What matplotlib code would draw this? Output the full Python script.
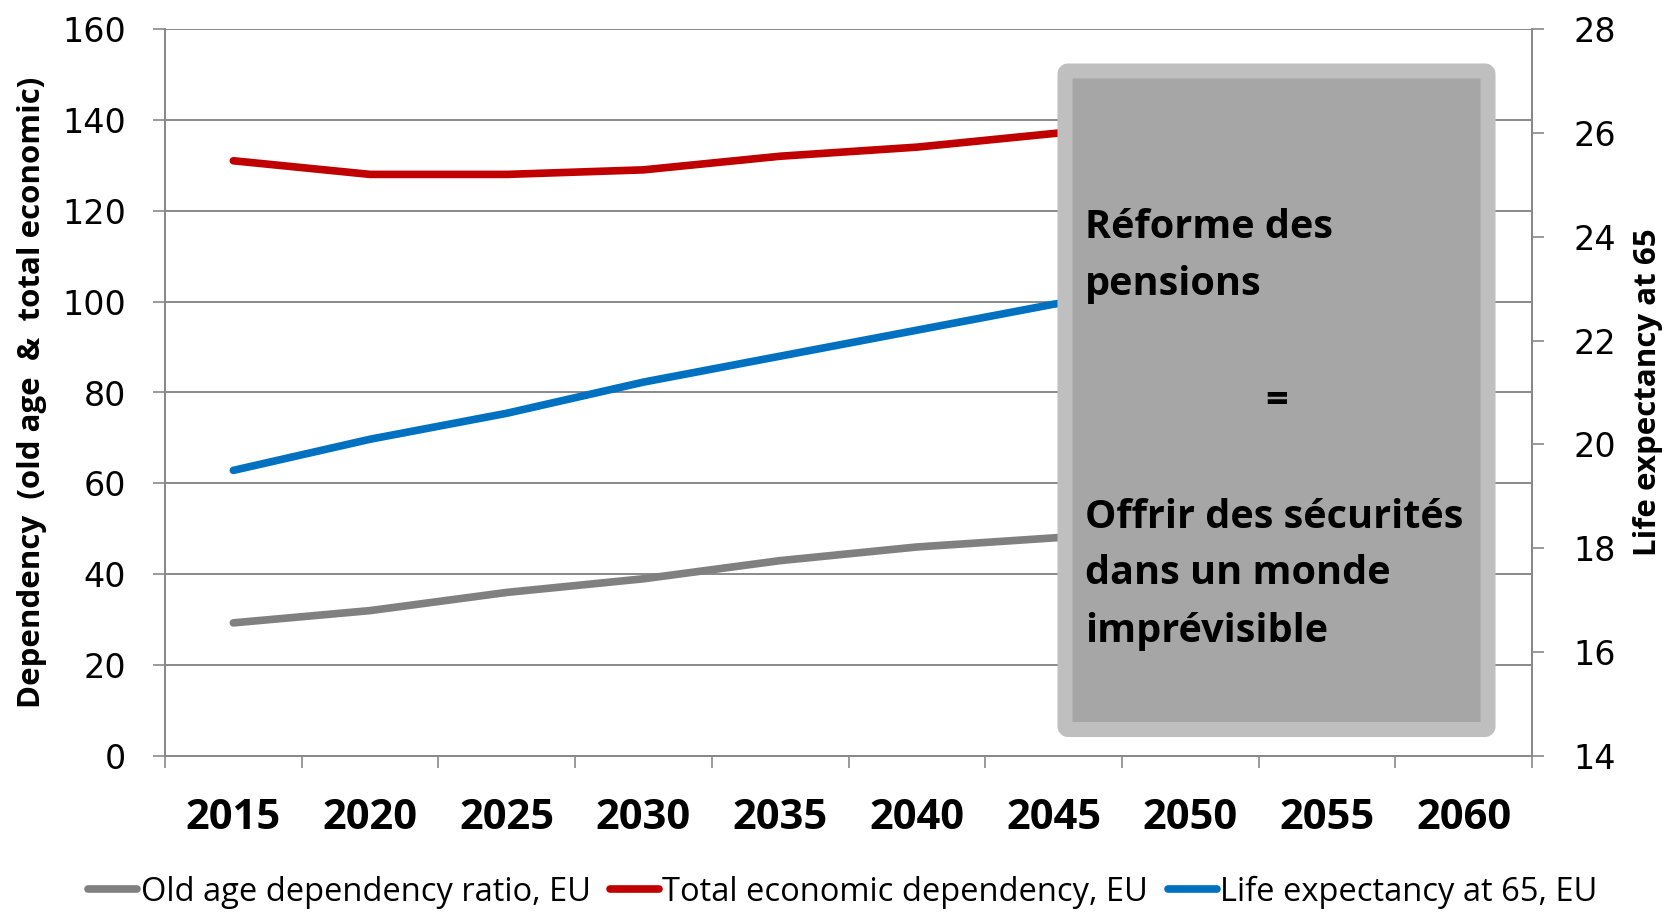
import matplotlib
matplotlib.use("Agg")
import matplotlib.pyplot as plt
from matplotlib.patches import FancyBboxPatch
from matplotlib.transforms import IdentityTransform
from matplotlib.ticker import MultipleLocator, FixedLocator

# === Données ===
years = ["2015", "2020", "2025", "2030", "2035", "2040", "2045", "2050", "2055", "2060"]
old_age = [29.3, 32, 36, 39, 43, 46, 48, 50, 51, 51]
total_econ = [131, 128, 128, 129, 132, 134, 137, 140, 143, 145]
life_exp = [19.5, 20.1, 20.6, 21.2, 21.7, 22.2, 22.7, 23.1, 23.6, 24.0]

GRID = "#898989"
W, H = 1669, 913
AX_L, AX_R, AX_T, AX_B = 165, 1532, 29, 756
AX_W = AX_R - AX_L

fig = plt.figure(figsize=(W / 100, H / 100), dpi=100)
ax = fig.add_axes([AX_L / W, 1 - AX_B / H, AX_W / W, (AX_B - AX_T) / H])
ax2 = ax.twinx()

x = list(range(len(years)))
l1, = ax.plot(x, old_age, color="#808080", lw=5.5, solid_capstyle="round", label="Old age dependency ratio, EU")
l2, = ax.plot(x, total_econ, color="#C00000", lw=5.5, solid_capstyle="round", label="Total economic dependency, EU")
l3, = ax2.plot(x, life_exp, color="#0070C0", lw=5.5, solid_capstyle="round", label="Life expectancy at 65, EU")

ax.set_xlim(-0.5, len(years) - 0.5)
ax.set_ylim(0, 160)
ax2.set_ylim(14, 28)
ax.yaxis.set_major_locator(MultipleLocator(20))
ax2.yaxis.set_major_locator(MultipleLocator(2))

ax.set_xticks(x)
ax.set_xticklabels(years, fontfamily="Open Sans", fontweight="bold", fontsize=30)
ax.xaxis.set_minor_locator(FixedLocator([i - 0.5 for i in range(len(years) + 1)]))
ax.tick_params(axis="x", which="major", length=0, pad=30)
ax.tick_params(axis="x", which="minor", length=8.6, width=1.2, color=GRID, direction="out")

ax.tick_params(axis="y", length=8.6, width=1.2, color=GRID, pad=19.5, labelsize=24)
ax2.tick_params(axis="y", length=8.6, width=1.2, color=GRID, pad=21, labelsize=24)

ax.grid(True, axis="y", color=GRID, lw=1.4)
ax.set_axisbelow(True)
for a in (ax, ax2):
    a.spines["top"].set_visible(False)
    for s in ("left", "right", "bottom"):
        a.spines[s].set_color(GRID)
        a.spines[s].set_linewidth(1.4)

ax.set_ylabel("Dependency  (old age  &  total economic)", fontfamily="Open Sans",
              fontweight="bold", fontsize=22.5, va="center")
ax.yaxis.set_label_coords((32 - AX_L) / AX_W, 0.5)
ax2.set_ylabel("Life expectancy at 65", fontfamily="Open Sans", fontweight="bold",
               fontsize=22.5, rotation=90, va="center")
ax2.yaxis.set_label_coords((1648 - AX_L) / AX_W, 0.5)

fig.legend(handles=[l1, l2, l3], loc="center", bbox_to_anchor=(0.505, 1 - 892 / H),
           ncol=3, frameon=False, handlelength=1.5, handletextpad=0.1, columnspacing=0.6,
           prop={"family": "Open Sans", "size": 23.5})

# === Encadré ===
box = FancyBboxPatch((1065, H - 729.5), 423, 658.5,
                     boxstyle="round,pad=0,rounding_size=3",
                     facecolor="#A6A6A6", edgecolor="#BFBFBF", lw=10.8,
                     joinstyle="round", transform=IdentityTransform(), zorder=5)
fig.add_artist(box)

box_font = dict(family="Open Sans", fontweight="bold", fontsize=28.5, color="black",
                va="center", zorder=6)
lines_left = [("Réforme des", 228), ("pensions", 285),
              ("Offrir des sécurités", 517), ("dans un monde", 574), ("imprévisible", 631)]
for txt, yy in lines_left:
    fig.text(1085 / W, 1 - yy / H, txt, ha="left", **box_font)
fig.text(1277 / W, 1 - 401 / H, "=", ha="center", **box_font)

fig.savefig("out.png", dpi=100)
